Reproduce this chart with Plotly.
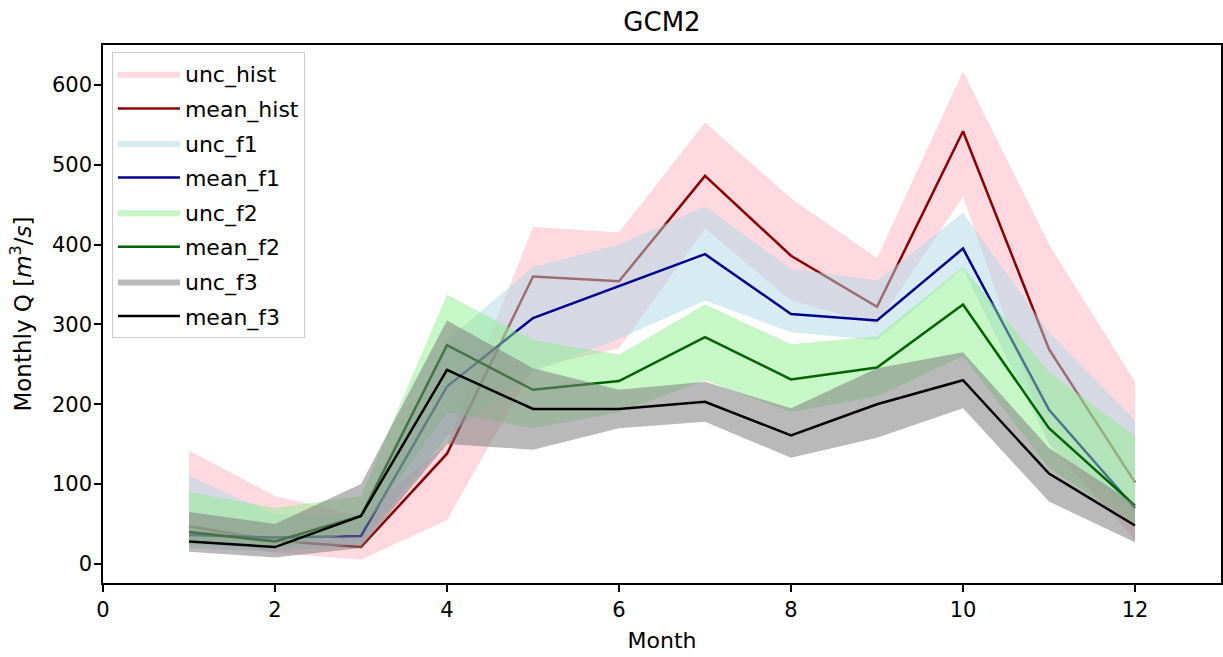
import plotly.graph_objects as go

months = [1, 2, 3, 4, 5, 6, 7, 8, 9, 10, 11, 12]

mean_hist = [47, 29, 21, 138, 360, 354, 486, 386, 322, 542, 269, 102]
unc_hist_hi = [142, 85, 60, 150, 422, 415, 553, 458, 383, 617, 400, 228]
unc_hist_lo = [28, 14, 5, 55, 245, 270, 420, 330, 300, 460, 150, 30]

mean_f1 = [36, 33, 35, 222, 308, 348, 388, 313, 305, 395, 193, 70]
unc_f1_hi = [110, 62, 62, 280, 372, 400, 448, 370, 355, 440, 290, 180]
unc_f1_lo = [20, 15, 25, 160, 240, 282, 330, 290, 280, 370, 150, 60]

mean_f2 = [40, 28, 60, 274, 218, 229, 284, 231, 246, 325, 170, 73]
unc_f2_hi = [90, 70, 85, 337, 280, 262, 325, 275, 285, 372, 240, 160]
unc_f2_lo = [25, 20, 40, 190, 170, 190, 230, 190, 210, 260, 120, 50]

mean_f3 = [28, 21, 60, 243, 194, 194, 203, 161, 200, 230, 113, 48]
unc_f3_hi = [65, 50, 100, 305, 245, 218, 228, 195, 245, 265, 145, 75]
unc_f3_lo = [15, 8, 20, 150, 143, 170, 178, 133, 158, 195, 78, 27]

series = [
    ("hist", mean_hist, unc_hist_hi, unc_hist_lo, "rgba(255,192,203,0.6)", "#8B0000"),
    ("f1", mean_f1, unc_f1_hi, unc_f1_lo, "rgba(173,216,230,0.5)", "#00008B"),
    ("f2", mean_f2, unc_f2_hi, unc_f2_lo, "rgba(144,238,144,0.5)", "#006400"),
    ("f3", mean_f3, unc_f3_hi, unc_f3_lo, "rgba(128,128,128,0.55)", "#000000"),
]

FONT = "DejaVu Sans"
fig = go.Figure()
for name, mean, hi, lo, fillc, linec in series:
    fig.add_trace(go.Scatter(
        x=months + months[::-1], y=hi + lo[::-1],
        fill="toself", fillcolor=fillc, mode="lines",
        line=dict(width=0, color=fillc), name="unc_" + name,
        legendgroup="unc_" + name, hoverinfo="skip"))
    fig.add_trace(go.Scatter(
        x=months, y=mean, mode="lines",
        line=dict(width=2.5, color=linec), name="mean_" + name,
        legendgroup="mean_" + name))

axis_common = dict(
    showline=True, mirror=True, linecolor="black", linewidth=1.5,
    ticks="outside", ticklen=7, tickwidth=1.5, tickcolor="black",
    showgrid=False, zeroline=False,
    tickfont=dict(family=FONT, size=21, color="black"),
)

fig.update_layout(
    width=1223, height=657,
    margin=dict(l=103, r=0, t=45, b=74),
    plot_bgcolor="white", paper_bgcolor="white",
    title=dict(text="GCM2", x=0.5, xref="paper", xanchor="center",
               y=0.967, yref="container", yanchor="middle",
               font=dict(family=FONT, size=26, color="black")),
    xaxis=dict(range=[0, 13], tickmode="linear", tick0=0, dtick=2,
               title=dict(text="Month", standoff=12,
                          font=dict(family=FONT, size=22, color="black")),
               **axis_common),
    yaxis=dict(range=[-24, 650], tickmode="linear", tick0=0, dtick=100,
               ticklabelstandoff=-2,
               title=dict(text="Monthly Q [<i>m</i><sup>3</sup>/<i>s</i>]", standoff=14,
                          font=dict(family=FONT, size=23, color="black")),
               **axis_common),
    legend=dict(x=0.008, y=0.987, xanchor="left", yanchor="top",
                bgcolor="rgba(255,255,255,0.8)", bordercolor="#cccccc", borderwidth=1,
                font=dict(family=FONT, size=22, color="black"),
                tracegroupgap=3, itemwidth=62, traceorder="grouped"),
    showlegend=True,
)

fig.write_html("out.html")
